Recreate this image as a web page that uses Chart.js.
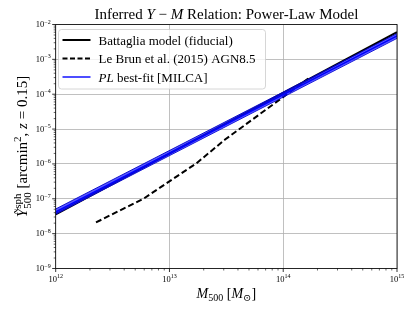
<!DOCTYPE html>
<html>
<head>
<meta charset="utf-8">
<script src="https://cdn.jsdelivr.net/npm/chart.js@4.4.1/dist/chart.umd.min.js"></script>
<style>
  html, body { margin: 0; padding: 0; background: #ffffff; }
  #wrap { width: 415px; height: 311px; }
</style>
</head>
<body>
<div id="wrap"><canvas id="c" width="415" height="311"></canvas></div>
<script>
// ---------------- data ----------------
const massRange   = [1e12, 1e15];
const battagliaY  = [3.6e-8, 6.0e-3];
const plBestY     = [4.2e-8, 4.7e-3];
const plLowY      = [3.6e-8, 4.0e-3];
const plHighY     = [5.1e-8, 5.5e-3];
const lebrunM     = [2.26e12, 5.9e12, 1.73e13, 3.08e13, 1.66e14];
const lebrunY     = [2.1e-8, 1.0e-7, 1.05e-6, 5.0e-6, 2.8e-4];
const xTickExps   = [12, 13, 14, 15];
const yTickExps   = [-9, -8, -7, -6, -5, -4, -3, -2];
const seriesNames = ['Battaglia model (fiducial)', 'Le Brun et al. (2015) AGN8.5', 'PL best-fit [MILCA]'];

const SERIF = '"Liberation Serif", "DejaVu Serif", serif';
const pts = (xs, ys) => xs.map((x, i) => ({ x: x, y: ys[i] }));

function fontOf(r) {
  return (r.i ? 'italic ' : '') + r.s + 'px ' + SERIF;
}
// draw a sequence of text runs; run.stack => drawn at same x as previous run
function drawRuns(ctx, runs, x, y, align) {
  let cur = 0, lastStart = 0, lastW = 0;
  const pos = [];
  runs.forEach(r => {
    ctx.font = fontOf(r);
    const w = ctx.measureText(r.t).width;
    if (r.stack) {
      pos.push(lastStart);
      cur = lastStart + Math.max(lastW, w);
      lastW = Math.max(lastW, w);
    } else {
      pos.push(cur);
      lastStart = cur; lastW = w;
      cur += w;
    }
  });
  const total = cur;
  let x0 = x;
  if (align === 'center') x0 = x - total / 2;
  else if (align === 'right') x0 = x - total;
  ctx.textAlign = 'left';
  ctx.textBaseline = 'alphabetic';
  runs.forEach((r, i) => {
    ctx.font = fontOf(r);
    ctx.fillText(r.t, x0 + pos[i], y + (r.dy || 0));
  });
  return total;
}

const decorPlugin = {
  id: 'decor',
  afterDatasetsDraw(chart) {
    const ctx = chart.ctx;
    const ca = chart.chartArea;
    const xs = chart.scales.x, ys = chart.scales.y;
    ctx.save();
    ctx.fillStyle = '#000';
    ctx.strokeStyle = '#000';

    // frame
    ctx.lineWidth = 0.8;
    ctx.strokeRect(ca.left, ca.top, ca.right - ca.left, ca.bottom - ca.top);

    // ticks (major + minor), outward
    ctx.beginPath();
    xTickExps.forEach(e => {
      const px = xs.getPixelForValue(Math.pow(10, e));
      ctx.moveTo(px, ca.bottom); ctx.lineTo(px, ca.bottom + 3.5);
    });
    yTickExps.forEach(e => {
      const py = ys.getPixelForValue(Math.pow(10, e));
      ctx.moveTo(ca.left, py); ctx.lineTo(ca.left - 3.5, py);
    });
    ctx.lineWidth = 0.8; ctx.stroke();
    ctx.beginPath();
    for (let e = xTickExps[0]; e < xTickExps[xTickExps.length - 1]; e++) {
      for (let k = 2; k <= 9; k++) {
        const px = xs.getPixelForValue(k * Math.pow(10, e));
        ctx.moveTo(px, ca.bottom); ctx.lineTo(px, ca.bottom + 2);
      }
    }
    for (let e = yTickExps[0]; e < yTickExps[yTickExps.length - 1]; e++) {
      for (let k = 2; k <= 9; k++) {
        const py = ys.getPixelForValue(k * Math.pow(10, e));
        ctx.moveTo(ca.left, py); ctx.lineTo(ca.left - 2, py);
      }
    }
    ctx.lineWidth = 0.6; ctx.stroke();

    // tick labels
    ctx.fillStyle = '#000';
    xTickExps.forEach(e => {
      const px = xs.getPixelForValue(Math.pow(10, e));
      drawRuns(ctx, [{ t: '10', s: 8.5 }, { t: String(e), s: 6, dy: -3.5 }], px, ca.bottom + 13, 'center');
    });
    yTickExps.forEach(e => {
      const py = ys.getPixelForValue(Math.pow(10, e));
      const ex = (e < 0 ? '\u2212' : '') + Math.abs(e);
      drawRuns(ctx, [{ t: '10', s: 8.5 }, { t: ex, s: 6, dy: -3.5 }], ca.left - 5, py + 2.5, 'right');
    });

    // title
    drawRuns(ctx, [
      { t: 'Inferred ', s: 15 }, { t: 'Y', s: 15, i: true }, { t: ' \u2212 ', s: 15 },
      { t: 'M', s: 15, i: true }, { t: ' Relation: Power-Law Model', s: 15 }
    ], (ca.left + ca.right) / 2, 19, 'center');

    // x label
    drawRuns(ctx, [
      { t: 'M', s: 14, i: true }, { t: '500', s: 10, dy: 3 }, { t: ' [', s: 14 },
      { t: 'M', s: 14, i: true }, { t: '\u2299', s: 10, dy: 3 }, { t: ']', s: 14 }
    ], (ca.left + ca.right) / 2, 298, 'center');

    // y label (rotated)
    ctx.save();
    ctx.translate(27, (ca.top + ca.bottom) / 2);
    ctx.rotate(-Math.PI / 2);
    drawRuns(ctx, [
      { t: '\u1EF8', s: 15, i: true }, { t: 'sph', s: 11, dy: -6 }, { t: '500', s: 11, dy: 3.5, stack: true },
      { t: ' [arcmin', s: 15 }, { t: '2', s: 11, dy: -6 }, { t: ', ', s: 15 },
      { t: 'z', s: 15, i: true }, { t: ' = 0.15]', s: 15 }
    ], 0, 0, 'center');
    ctx.restore();

    // legend
    const bx = ca.left + 2.8, by = ca.top + 5, bw = 207, bh = 59.5;
    ctx.beginPath();
    ctx.roundRect(bx, by, bw, bh, 3);
    ctx.fillStyle = 'rgba(255,255,255,0.8)';
    ctx.fill();
    ctx.strokeStyle = '#cccccc';
    ctx.lineWidth = 0.8;
    ctx.stroke();
    const rows = [10.5, 29, 47.5];
    const styles = [
      { c: '#000000', w: 2, d: [] },
      { c: '#000000', w: 2, d: [5, 2.5] },
      { c: '#0000ff', w: 1.4, d: [] }
    ];
    rows.forEach((ry, i) => {
      const yy = by + ry;
      ctx.beginPath();
      ctx.setLineDash(styles[i].d);
      ctx.strokeStyle = styles[i].c;
      ctx.lineWidth = styles[i].w;
      ctx.moveTo(bx + 4, yy); ctx.lineTo(bx + 32, yy);
      ctx.stroke();
      ctx.setLineDash([]);
      ctx.fillStyle = '#000';
      let runs;
      if (i === 2) runs = [{ t: 'PL', s: 13, i: true }, { t: ' best-fit [MILCA]', s: 13 }];
      else runs = [{ t: seriesNames[i], s: 13 }];
      drawRuns(ctx, runs, bx + 40, yy + 4.5, 'left');
    });
    ctx.restore();
  }
};

new Chart(document.getElementById('c'), {
  type: 'line',
  data: {
    datasets: [
      { label: seriesNames[2], data: pts(massRange, plBestY), borderColor: '#0000ff', borderWidth: 1.6,
        pointRadius: 0, fill: false, order: 0 },
      { label: 'PL upper', data: pts(massRange, plHighY), borderColor: 'rgba(0,0,200,0.9)', borderWidth: 1,
        backgroundColor: 'rgba(20,20,255,0.7)', pointRadius: 0, fill: '+1', order: 1 },
      { label: 'PL lower', data: pts(massRange, plLowY), borderColor: 'rgba(0,0,200,0.9)', borderWidth: 1,
        pointRadius: 0, fill: false, order: 1 },
      { label: seriesNames[1], data: pts(lebrunM, lebrunY), borderColor: '#000000', borderWidth: 2,
        borderDash: [6, 3], pointRadius: 0, fill: false, order: 2 },
      { label: seriesNames[0], data: pts(massRange, battagliaY), borderColor: '#000000', borderWidth: 2,
        pointRadius: 0, fill: false, order: 3 }
    ]
  },
  options: {
    responsive: false,
    animation: false,
    devicePixelRatio: 1,
    layout: { padding: { left: 55.7, right: 18, top: 24.5, bottom: 42.5 } },
    plugins: { legend: { display: false }, title: { display: false }, tooltip: { enabled: false } },
    elements: { line: { tension: 0 } },
    scales: {
      x: {
        type: 'logarithmic', min: 1e12, max: 1e15,
        ticks: { display: false },
        grid: { color: '#b0b0b0', lineWidth: 0.8, drawTicks: false },
        border: { display: false },
        afterBuildTicks: s => { s.ticks = xTickExps.map(e => ({ value: Math.pow(10, e), major: true })); }
      },
      y: {
        type: 'logarithmic', min: 1e-9, max: 1e-2,
        ticks: { display: false },
        grid: { color: '#b0b0b0', lineWidth: 0.8, drawTicks: false },
        border: { display: false },
        afterBuildTicks: s => { s.ticks = yTickExps.map(e => ({ value: Math.pow(10, e), major: true })); }
      }
    }
  },
  plugins: [decorPlugin]
});
</script>
</body>
</html>
